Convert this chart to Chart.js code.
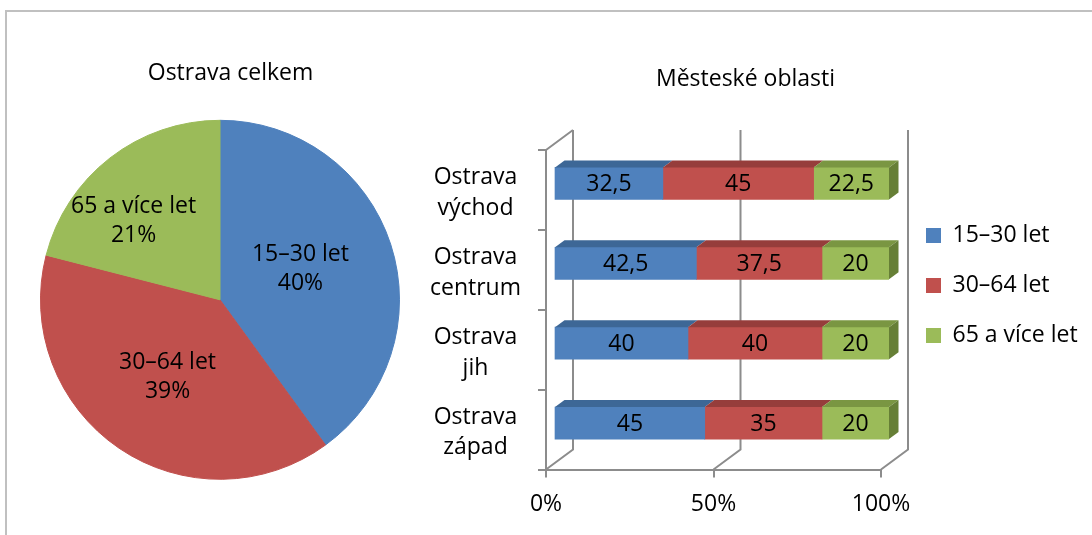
<!DOCTYPE html>
<html>
<head>
<meta charset="utf-8">
<script src="https://cdn.jsdelivr.net/npm/chart.js@4.4.1/dist/chart.umd.min.js"></script>
<style>
  html, body { margin: 0; padding: 0; background: #fff; overflow: hidden; }
  #frame { position: absolute; left: 5px; top: 10px; width: 1200px; height: 600px;
           border-top: 2px solid #c0c0c0; border-left: 2px solid #c0c0c0; }
  #pie { position: absolute; left: 0; top: 10px; }
  #bars { position: absolute; left: 400px; top: 10px; }
</style>
</head>
<body>
<div id="frame"></div>
<canvas id="pie" width="461" height="525"></canvas>
<canvas id="bars" width="692" height="525"></canvas>
<script>
// --- data ---
const pieLabels = ['15–30 let', '30–64 let', '65 a více let'];
const pieValues = [40, 39, 21];

const districts = [['Ostrava', 'východ'], ['Ostrava', 'centrum'], ['Ostrava', 'jih'], ['Ostrava', 'západ']];
const young = [32.5, 42.5, 40, 45];
const middle = [45, 37.5, 40, 35];
const senior = [22.5, 20, 20, 20];
const xTicks = [0, 50, 100];

// --- styles ---
const FONT = "'Open Sans', 'Noto Sans', sans-serif";
const COLORS = ['#4f81bd', '#c0504d', '#9bbb59'];
const TOP_COLORS = ['#3d6796', '#963d3b', '#7a9642'];
const SIDE_COLOR = '#667f36';
const AXIS = '#8c8c8c';
const DEPTH = { x: 27, y: -20 };     // front floor -> back wall
const SHIFT = { x: 8, y: -6.5 };     // where the bars sit inside the box
const BAR_DEPTH = { x: 9.5, y: -7 };

Chart.defaults.font.family = FONT;
Chart.defaults.font.size = 23;
Chart.defaults.color = '#000';

const fmt = v => String(v).replace('.', ',');

// move the title so it is centred where the picture has it
const centerTitle = cx => ({
  id: 'centerTitle',
  afterLayout(chart) {
    const t = chart.titleBlock;
    const d = cx - (t.left + t.right) / 2;
    t.left += d;
    t.right += d;
  }
});

const pieText = {
  id: 'pieText',
  afterDatasetsDraw(chart) {
    const ctx = chart.ctx;
    const total = pieValues.reduce((a, b) => a + b, 0);
    const place = [{ f: 0.48, nudge: -3 }, { f: 0.52, nudge: 0 }, { f: 0.65, nudge: -10 }];
    ctx.save();
    ctx.font = `23px ${FONT}`;
    ctx.fillStyle = '#000';
    ctx.textAlign = 'center';
    ctx.textBaseline = 'middle';
    chart.getDatasetMeta(0).data.forEach((arc, i) => {
      const { x, y, startAngle, endAngle, outerRadius } = arc.getProps(['x', 'y', 'startAngle', 'endAngle', 'outerRadius'], true);
      const a = (startAngle + endAngle) / 2 + place[i].nudge * Math.PI / 180;
      const r = outerRadius * place[i].f;
      const px = x + Math.cos(a) * r, py = y + Math.sin(a) * r;
      ctx.fillText(pieLabels[i], px, py - 14.5);
      ctx.fillText(Math.round(pieValues[i] / total * 100) + '%', px, py + 14.5);
    });
    ctx.restore();
  }
};

new Chart(document.getElementById('pie'), {
  type: 'pie',
  data: {
    labels: pieLabels,
    datasets: [{ data: pieValues, backgroundColor: COLORS, borderColor: COLORS, borderWidth: 1, hoverOffset: 0 }]
  },
  options: {
    responsive: false,
    animation: false,
    layout: { padding: { left: 40, right: 61, top: 0, bottom: 55 } },
    plugins: {
      legend: { display: false },
      tooltip: { enabled: false },
      title: { display: true, text: 'Ostrava celkem', font: { size: 23, weight: 'normal' }, padding: { top: 50, bottom: 32 } }
    }
  },
  plugins: [centerTitle(230.5), pieText]
});

// 3D box walls, bar tops/sides and the value labels
const box3d = {
  id: 'box3d',
  beforeDatasetsDraw(chart) {
    const { ctx, chartArea: a, scales: { x } } = chart;
    ctx.save();
    ctx.strokeStyle = AXIS;
    ctx.lineWidth = 2;
    ctx.beginPath();
    xTicks.forEach(v => {
      const px = x.getPixelForValue(v);
      ctx.moveTo(px, a.bottom);
      ctx.lineTo(px + DEPTH.x, a.bottom + DEPTH.y);
      ctx.lineTo(px + DEPTH.x, a.top + DEPTH.y);
    });
    ctx.moveTo(a.left, a.top);
    ctx.lineTo(a.left + DEPTH.x, a.top + DEPTH.y);
    ctx.stroke();
    ctx.restore();
    ctx.save();
    ctx.translate(SHIFT.x, SHIFT.y);
  },
  afterDatasetsDraw(chart) {
    const ctx = chart.ctx;
    const last = chart.data.datasets.length - 1;
    ctx.font = `23px ${FONT}`;
    ctx.textAlign = 'center';
    ctx.textBaseline = 'middle';
    chart.data.datasets.forEach((ds, i) => {
      chart.getDatasetMeta(i).data.forEach((bar, j) => {
        const { x, y, base, height } = bar.getProps(['x', 'y', 'base', 'height'], true);
        const top = y - height / 2, bottom = y + height / 2;
        ctx.fillStyle = TOP_COLORS[i];
        ctx.beginPath();
        ctx.moveTo(base, top);
        ctx.lineTo(x, top);
        ctx.lineTo(x + BAR_DEPTH.x, top + BAR_DEPTH.y);
        ctx.lineTo(base + BAR_DEPTH.x, top + BAR_DEPTH.y);
        ctx.closePath();
        ctx.fill();
        if (i === last) {
          ctx.fillStyle = SIDE_COLOR;
          ctx.beginPath();
          ctx.moveTo(x, top);
          ctx.lineTo(x + BAR_DEPTH.x, top + BAR_DEPTH.y);
          ctx.lineTo(x + BAR_DEPTH.x, bottom + BAR_DEPTH.y);
          ctx.lineTo(x, bottom);
          ctx.closePath();
          ctx.fill();
        }
        ctx.fillStyle = '#000';
        ctx.fillText(fmt(ds.data[j]), (base + x) / 2, y + 1);
      });
    });
    ctx.restore();
  }
};

const placeLegend = {
  id: 'placeLegend',
  afterLayout(chart) {
    const lg = chart.legend;
    lg.left = 499; lg.top = 187;
    lg.right = lg.left + 193; lg.bottom = lg.top + 190;
  }
};

new Chart(document.getElementById('bars'), {
  type: 'bar',
  data: {
    labels: districts,
    datasets: [
      { label: pieLabels[0], data: young, backgroundColor: COLORS[0] },
      { label: pieLabels[1], data: middle, backgroundColor: COLORS[1] },
      { label: pieLabels[2], data: senior, backgroundColor: COLORS[2] }
    ]
  },
  options: {
    responsive: false,
    animation: false,
    indexAxis: 'y',
    datasets: { bar: { barThickness: 32, borderWidth: 0 } },
    layout: { padding: { left: 0, right: 211, top: 0, bottom: 15.5 } },
    scales: {
      x: {
        stacked: true, min: 0, max: 100,
        afterFit: s => { s.height = 50; },
        afterBuildTicks: s => { s.ticks = xTicks.map(v => ({ value: v })); },
        ticks: { callback: v => v + '%', padding: 13 },
        grid: { drawOnChartArea: false, color: AXIS, lineWidth: 2, tickLength: 8 },
        border: { color: AXIS, width: 2 }
      },
      y: {
        stacked: true,
        afterFit: s => { s.width = 146; },
        ticks: { crossAlign: 'center', padding: 17, labelOffset: 3, font: { lineHeight: 1.33 } },
        grid: { offset: true, drawOnChartArea: false, color: AXIS, lineWidth: 2, tickLength: 8 },
        border: { color: AXIS, width: 2 }
      }
    },
    plugins: {
      tooltip: { enabled: false },
      title: { display: true, text: 'Městeské oblasti', font: { size: 23, weight: 'normal' }, padding: { top: 56, bottom: 56.4 } },
      legend: {
        position: 'chartArea',
        align: 'start',
        labels: { boxWidth: 15, boxHeight: 15, padding: 27, font: { size: 23 } }
      }
    }
  },
  plugins: [centerTitle(345.5), placeLegend, box3d]
});
</script>
</body>
</html>
